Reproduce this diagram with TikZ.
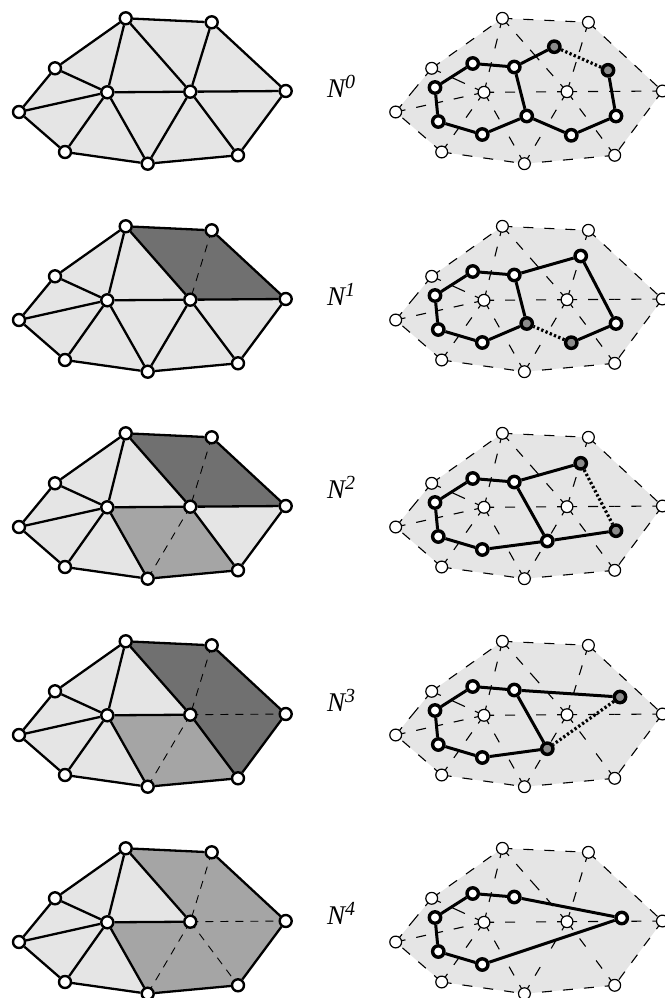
\documentclass[tikz,border=0pt]{standalone}
\usepackage{fontspec}
\setmainfont{Liberation Serif}
\usetikzlibrary{calc}
\pgfdeclarelayer{shade}
\pgfdeclarelayer{edges}
\pgfsetlayers{shade,edges,main}
\definecolor{lightfill}{HTML}{E5E5E5}
\definecolor{midfill}{HTML}{A5A5A5}
\definecolor{darkfill}{HTML}{707070}
\definecolor{grayknob}{HTML}{8C8C8C}
\tikzset{
  x=1pt,y=-1pt,
  meshnode/.style={circle,draw=black,fill=white,line width=2.4pt,minimum size=12pt,inner sep=0pt},
  hullnode/.style={circle,draw=black,fill=white,line width=1.2pt,minimum size=11.8pt,inner sep=0pt},
  dualnode/.style={circle,draw=black,fill=white,line width=3.4pt,minimum size=11.4pt,inner sep=0pt},
  graynode/.style={dualnode,fill=grayknob},
  meshedge/.style={draw=black,line width=2.3pt},
  thinedge/.style={draw=black,line width=1.1pt,dash pattern=on 10pt off 11pt},
  cutedge/.style={draw=black,line width=.9pt,dash pattern=on 8pt off 7pt},
  dualedge/.style={draw=black,line width=3pt},
  dotedge/.style={draw=black,line width=3.2pt,dash pattern=on 2.3pt off 2.3pt},
  rowlabel/.style={anchor=base west,inner sep=0pt,font=\fontsize{27}{27}\selectfont\itshape},
}
\newcommand{\rlsup}[1]{\raisebox{9pt}{\fontsize{20}{20}\selectfont #1}}
% the ten mesh vertices, named in the current prefix
\newcommand{\meshverts}[1]{%
  \node[#1] (a) at (125.7,18.3) {};
  \node[#1] (b) at (211.7,22.3) {};
  \node[#1] (c) at (285.7,91) {};
  \node[#1] (d) at (190.3,91.7) {};
  \node[#1] (e) at (107.3,92.3) {};
  \node[#1] (f) at (55,68.3) {};
  \node[#1] (g) at (19,112) {};
  \node[#1] (h) at (65,152) {};
  \node[#1] (i) at (147.7,163.7) {};
  \node[#1] (j) at (238,155.3) {};
}
\newcommand{\hullshape}{(a.center) -- (b.center) -- (c.center) -- (j.center) -- (i.center) -- (h.center) -- (g.center) -- (f.center) -- cycle}
\newcommand{\twoway}[2]{%
  \draw[thinedge] (#1.center) -- ($(#1.center)!.5!(#2.center)$);
  \draw[thinedge] (#2.center) -- ($(#1.center)!.5!(#2.center)$);
}
% right panel: hull and dashed triangulation
\newcommand{\rightmesh}[2]{%
\begin{scope}[shift={(376.7,#1)},name prefix=#2-]
  \meshverts{hullnode}
  \begin{pgfonlayer}{shade}
    \fill[lightfill] \hullshape;
    \draw[thinedge] (f.center) -- (a.center);
    \draw[thinedge] (a.center) -- (b.center);
    \draw[thinedge] (b.center) -- (c.center);
    \draw[thinedge] (c.center) -- (j.center);
    \draw[thinedge] (j.center) -- (i.center);
    \draw[thinedge] (h.center) -- (i.center);
    \draw[thinedge] (h.center) -- (g.center);
    \twoway{f}{g}
    \twoway{f}{e}
    \twoway{g}{e}
    \twoway{h}{e}
    \twoway{a}{e}
    \twoway{i}{e}
    \twoway{a}{d}
    \twoway{b}{d}
    \twoway{c}{d}
    \twoway{j}{d}
    \twoway{i}{d}
    \twoway{e}{d}
  \end{pgfonlayer}
\end{scope}}
% left panel
\newcommand{\leftmesh}[3]{%
\begin{scope}[shift={(0,#1)},name prefix=#2-]
  \meshverts{meshnode}
  \begin{pgfonlayer}{shade}
    \fill[lightfill] \hullshape;
    #3
  \end{pgfonlayer}
\end{scope}}
\newcommand{\solid}[1]{\foreach \ua/\ub in {#1} {\draw[meshedge] (\ua) -- (\ub);}}
\newcommand{\dashedin}[1]{\foreach \ua/\ub in {#1} {\draw[cutedge] (\ua.center) -- (\ub.center);}}
\newcommand{\dualcommon}{%
  \node[dualnode] (p1) at (472.7,63.5) {};
  \node[dualnode] (p8) at (482.3,134.5) {};
  \node[dualnode] (p9) at (438.3,121.5) {};
  \node[dualnode] (p10) at (435,87.5) {};
}
\begin{document}
\begin{tikzpicture}
\useasboundingbox (0,0) rectangle (664,998);
% ---------- left column
\leftmesh{0}{L0}{}
\begin{scope}[name prefix=L0-]\begin{pgfonlayer}{edges}
\solid{a/b,b/c,c/j,j/i,i/h,h/g,g/f,f/a,f/e,g/e,h/e,i/e,a/e,a/d,b/d,c/d,e/d,i/d,j/d}
\end{pgfonlayer}\end{scope}

\leftmesh{208}{L1}{\fill[darkfill] (a.center) -- (b.center) -- (c.center) -- (d.center) -- cycle;}
\begin{scope}[name prefix=L1-]\begin{pgfonlayer}{edges}
\solid{a/b,b/c,c/j,j/i,i/h,h/g,g/f,f/a,f/e,g/e,h/e,i/e,a/e,a/d,c/d,e/d,i/d,j/d}
\dashedin{b/d}
\end{pgfonlayer}\end{scope}

\leftmesh{415}{L2}{\fill[darkfill] (a.center) -- (b.center) -- (c.center) -- (d.center) -- cycle;
  \fill[midfill] (e.center) -- (d.center) -- (j.center) -- (i.center) -- cycle;}
\begin{scope}[name prefix=L2-]\begin{pgfonlayer}{edges}
\solid{a/b,b/c,c/j,j/i,i/h,h/g,g/f,f/a,f/e,g/e,h/e,i/e,a/e,a/d,c/d,e/d,j/d}
\dashedin{b/d,d/i}
\end{pgfonlayer}\end{scope}

\leftmesh{623}{L3}{\fill[darkfill] (a.center) -- (b.center) -- (c.center) -- (j.center) -- (d.center) -- cycle;
  \fill[midfill] (e.center) -- (d.center) -- (j.center) -- (i.center) -- cycle;}
\begin{scope}[name prefix=L3-]\begin{pgfonlayer}{edges}
\solid{a/b,b/c,c/j,j/i,i/h,h/g,g/f,f/a,f/e,g/e,h/e,i/e,a/e,a/d,e/d,j/d}
\dashedin{b/d,d/i,d/c}
\end{pgfonlayer}\end{scope}

\leftmesh{830}{L4}{\fill[midfill] (a.center) -- (b.center) -- (c.center) -- (j.center) -- (i.center) -- (e.center) -- (d.center) -- cycle;}
\begin{scope}[name prefix=L4-]\begin{pgfonlayer}{edges}
\solid{a/b,b/c,c/j,j/i,i/h,h/g,g/f,f/a,f/e,g/e,h/e,i/e,a/e,a/d,e/d}
\dashedin{b/d,d/i,d/c,d/j}
\end{pgfonlayer}\end{scope}

% ---------- labels
\node[rowlabel] (n0) at (327,97) {N\rlsup{0}};
\node[rowlabel] (n1) at (327,305) {N\rlsup{1}};
\node[rowlabel] (n2) at (327,498) {N\rlsup{2}};
\node[rowlabel] (n3) at (327,711) {N\rlsup{3}};
\node[rowlabel] (n4) at (327,924) {N\rlsup{4}};

% ---------- right column
\rightmesh{0}{R0}
\begin{scope}[shift={(0,0)},name prefix=D0-]
  \dualcommon
  \node[dualnode] (p2) at (514.3,67) {};
  \node[graynode] (p3) at (554.3,46.7) {};
  \node[graynode] (p4) at (608,70.3) {};
  \node[dualnode] (p5) at (616,116) {};
  \node[dualnode] (p6) at (571.3,135.3) {};
  \node[dualnode] (p7) at (526.7,116) {};
  \begin{pgfonlayer}{edges}
    \draw[dualedge] (p10) -- (p1) -- (p2) -- (p3);
    \draw[dualedge] (p4) -- (p5) -- (p6) -- (p7) -- (p8) -- (p9) -- (p10);
    \draw[dualedge] (p2) -- (p7);
    \draw[dotedge] (p3) -- (p4);
  \end{pgfonlayer}
\end{scope}

\rightmesh{208}{R1}
\begin{scope}[shift={(0,208)},name prefix=D1-]
  \dualcommon
  \node[dualnode] (p2) at (514.3,67) {};
  \node[dualnode] (p3) at (580.7,48) {};
  \node[dualnode] (p5) at (616,115.5) {};
  \node[graynode] (p6) at (571.3,134.7) {};
  \node[graynode] (p7) at (526.7,115.5) {};
  \begin{pgfonlayer}{edges}
    \draw[dualedge] (p10) -- (p1) -- (p2) -- (p3) -- (p5) -- (p6);
    \draw[dualedge] (p7) -- (p8) -- (p9) -- (p10);
    \draw[dualedge] (p2) -- (p7);
    \draw[dotedge] (p6) -- (p7);
  \end{pgfonlayer}
\end{scope}

\rightmesh{415}{R2}
\begin{scope}[shift={(0,415)},name prefix=D2-]
  \dualcommon
  \node[dualnode] (p2) at (514.3,67) {};
  \node[graynode] (p3) at (580.7,48.3) {};
  \node[graynode] (q) at (616,115.7) {};
  \node[dualnode] (r) at (547.3,126) {};
  \begin{pgfonlayer}{edges}
    \draw[dualedge] (p10) -- (p1) -- (p2) -- (p3);
    \draw[dualedge] (q) -- (r) -- (p8) -- (p9) -- (p10);
    \draw[dualedge] (p2) -- (r);
    \draw[dotedge] (p3) -- (q);
  \end{pgfonlayer}
\end{scope}

\rightmesh{623}{R3}
\begin{scope}[shift={(0,623)},name prefix=D3-]
  \dualcommon
  \node[dualnode] (p2) at (514.3,67) {};
  \node[graynode] (s) at (620,74) {};
  \node[graynode] (r) at (547.3,125.7) {};
  \begin{pgfonlayer}{edges}
    \draw[dualedge] (p10) -- (p1) -- (p2) -- (s);
    \draw[dualedge] (r) -- (p8) -- (p9) -- (p10);
    \draw[dualedge] (p2) -- (r);
    \draw[dotedge] (s) -- (r);
  \end{pgfonlayer}
\end{scope}

\rightmesh{830}{R4}
\begin{scope}[shift={(0,830)},name prefix=D4-]
  \dualcommon
  \node[dualnode] (p2) at (514.3,67) {};
  \node[dualnode] (t) at (621.7,88) {};
  \begin{pgfonlayer}{edges}
    \draw[dualedge] (p10) -- (p1) -- (p2) -- (t) -- (p8) -- (p9) -- (p10);
  \end{pgfonlayer}
\end{scope}
\end{tikzpicture}
\end{document}
